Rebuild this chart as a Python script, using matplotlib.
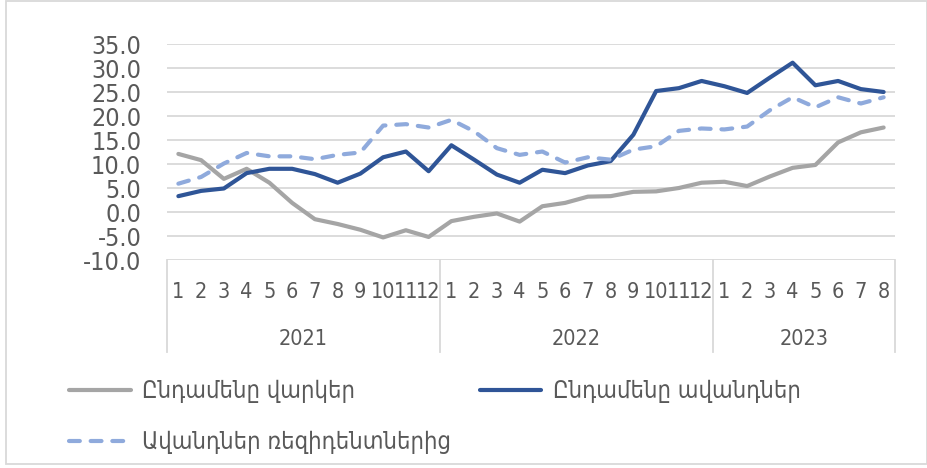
import numpy as np
import matplotlib.pyplot as plt
from matplotlib.lines import Line2D
from matplotlib.patches import Rectangle

# data
years = ['2021', '2022', '2023']
months_per_year = [12, 12, 8]
loans = [12.1, 10.8, 6.9, 9.0, 6.1, 1.9, -1.5, -2.5, -3.7, -5.3, -3.8, -5.2,
         -1.9, -1.0, -0.3, -2.0, 1.2, 1.9, 3.2, 3.3, 4.2, 4.3, 5.0, 6.1,
         6.3, 5.4, 7.4, 9.2, 9.8, 14.5, 16.6, 17.6]
deposits = [3.3, 4.4, 4.9, 8.1, 9.0, 9.0, 7.9, 6.1, 8.0, 11.4, 12.6, 8.5,
            13.9, 10.9, 7.8, 6.1, 8.8, 8.1, 9.7, 10.6, 16.1, 25.2, 25.8, 27.3,
            26.2, 24.8, 28.0, 31.1, 26.4, 27.3, 25.6, 25.0]
resident_dep = [5.9, 7.3, 10.1, 12.3, 11.6, 11.6, 11.0, 11.9, 12.4, 18.0, 18.3, 17.6,
                19.2, 16.8, 13.3, 11.9, 12.6, 10.3, 11.4, 10.9, 13.0, 13.7, 16.9, 17.4,
                17.2, 17.8, 21.2, 23.9, 21.8, 23.9, 22.6, 23.9]
names = ['Ընդամենը վարկեր', 'Ընդամենը ավանդներ', 'Ավանդներ ռեզիդենտներից']

month_labels = []
for n in months_per_year:
    month_labels += [str(m) for m in range(1, n + 1)]
x = np.arange(len(month_labels))

txt = '#595959'
grid = '#D9D9D9'
plt.rcParams['font.family'] = ['DejaVu Sans']
plt.rcParams['font.stretch'] = 'condensed'

W, H = 928, 468
fig = plt.figure(figsize=(W / 100, H / 100), dpi=100)
ax = fig.add_axes([167 / W, (H - 260) / H, 728 / W, 216 / H])
ax.set_xlim(-0.5, len(x) - 0.5)
ax.set_ylim(-10, 35)

l1, = ax.plot(x, loans, color='#A5A5A5', lw=3, solid_joinstyle='round', solid_capstyle='round')
l2, = ax.plot(x, deposits, color='#2F5597', lw=3, solid_joinstyle='round', solid_capstyle='round')
l3, = ax.plot(x, resident_dep, color='#8FAADC', lw=3, dashes=(2.6, 2.6),
              dash_capstyle='round', dash_joinstyle='round')

ax.set_yticks(np.arange(-10, 36, 5))
ax.set_yticklabels(['%.1f' % v for v in np.arange(-10, 36, 5)],
                   fontsize=18, color=txt, fontstretch='condensed')
ax.tick_params(axis='y', length=0, pad=18.5)
ax.set_xticks([])
ax.grid(axis='y', color=grid, lw=1.3)
ax.set_axisbelow(True)
for s in ax.spines.values():
    s.set_visible(False)

# month labels and year groups
for i, lab in enumerate(month_labels):
    ax.text(i, -(292 - 260) / 216, lab, transform=ax.get_xaxis_transform(),
            ha='center', va='center', fontsize=15.5, color=txt, fontstretch='condensed')
start = 0
bounds = [-0.5]
for yr, n in zip(years, months_per_year):
    ax.text(start + (n - 1) / 2, -(339 - 260) / 216, yr, transform=ax.get_xaxis_transform(),
            ha='center', va='center', fontsize=15.5, color=txt, fontstretch='condensed')
    start += n
    bounds.append(start - 0.5)
for b in bounds:
    ax.add_line(Line2D([b, b], [0, -(352 - 260) / 216], transform=ax.get_xaxis_transform(),
                       color=grid, lw=1.3, clip_on=False))

leg = fig.legend([l1, l3, l2], [names[0], names[2], names[1]], ncol=2,
                 loc='upper left', bbox_to_anchor=(48 / W, 1 - 358 / H),
                 frameon=False, handlelength=2.6, handletextpad=0.5,
                 columnspacing=1.2, labelspacing=1.15, labelcolor=txt,
                 prop={'size': 17, 'stretch': 'condensed'})

fig.add_artist(Rectangle((6 / W, 1 - 464 / H), 921 / W, 463 / H, transform=fig.transFigure,
                         fill=False, edgecolor=grid, lw=1.3))

fig.savefig('out.png', dpi=100)
